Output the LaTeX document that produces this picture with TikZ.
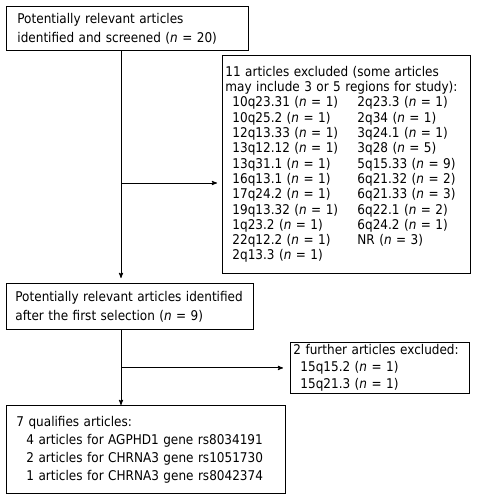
\documentclass[tikz,border=0pt]{standalone}
\usepackage{fontspec}
\setmainfont{DejaVu Sans Condensed}
\usetikzlibrary{calc}
\usetikzlibrary{arrows}
\newcommand{\nart}{\textit{n}}
\newcommand{\regrow}[2]{\hspace*{7pt}\makebox[125pt][l]{#1}#2}

\begin{document}
\begin{tikzpicture}[x=1pt, y=-1pt, font=\fontsize{13.4}{19}\selectfont,
  box/.style={draw=black, line width=0.9pt, anchor=north west, align=left, inner ysep=2pt},
  flow/.style={black, line width=0.9pt, ->, >=stealth'}]
\useasboundingbox (0,0) rectangle (480,503);
\fill[white] (0,0) rectangle (480,503);
% boxes
\node[box, text width=220pt, inner xsep=11pt, minimum height=44pt] (screen) at (6,6)
  {Potentially relevant articles\\identified and screened (\nart{} = 20)};
\node[box, text width=242pt, inner xsep=3pt, minimum height=218pt,
  font=\fontsize{13.4}{15.3}\selectfont] (excl) at (222,55)
  {11 articles excluded (some articles\\
   may include 3 or 5 regions for study):\\
   \regrow{10q23.31 (\nart{} = 1)}{2q23.3 (\nart{} = 1)}\\
   \regrow{10q25.2 (\nart{} = 1)}{2q34 (\nart{} = 1)}\\
   \regrow{12q13.33 (\nart{} = 1)}{3q24.1 (\nart{} = 1)}\\
   \regrow{13q12.12 (\nart{} = 1)}{3q28 (\nart{} = 5)}\\
   \regrow{13q31.1 (\nart{} = 1)}{5q15.33 (\nart{} = 9)}\\
   \regrow{16q13.1 (\nart{} = 1)}{6q21.32 (\nart{} = 2)}\\
   \regrow{17q24.2 (\nart{} = 1)}{6q21.33 (\nart{} = 3)}\\
   \regrow{19q13.32 (\nart{} = 1)}{6q22.1 (\nart{} = 2)}\\
   \regrow{1q23.2 (\nart{} = 1)}{6q24.2 (\nart{} = 1)}\\
   \regrow{22q12.2 (\nart{} = 1)}{NR (\nart{} = 3)}\\
   \hspace*{7pt}2q13.3 (\nart{} = 1)};
\node[box, text width=229pt, inner xsep=9pt, minimum height=46pt] (first) at (6,283)
  {Potentially relevant articles identified\\after the first selection (\nart{} = 9)};
\node[box, text width=173pt, inner xsep=3pt, minimum height=50pt,
  font=\fontsize{13.4}{17}\selectfont] (further) at (290,342)
  {2 further articles excluded:\\
   \hspace*{7pt}15q15.2 (\nart{} = 1)\\
   \hspace*{7pt}15q21.3 (\nart{} = 1)};
\node[box, text width=259pt, inner xsep=10pt, minimum height=88pt,
  font=\fontsize{13.4}{18}\selectfont] (final) at (6,405)
  {7 qualifies articles:\\
   \hspace*{10pt}4 articles for AGPHD1 gene rs8034191\\
   \hspace*{10pt}2 articles for CHRNA3 gene rs1051730\\
   \hspace*{10pt}1 articles for CHRNA3 gene rs8042374};
% connectors
\coordinate (trunk) at (121,0);
\coordinate (split) at (121,183);
\draw[flow, shorten >=5pt] (screen.south -| trunk) -- (first.north -| trunk);
\draw[flow, shorten >=5pt] (split) -- (split -| excl.west);
\draw[flow] (first.south -| trunk) -- (final.north -| trunk);
\draw[flow, shorten >=7pt] (trunk |- further.west) -- (further.west);
\end{tikzpicture}
\end{document}
